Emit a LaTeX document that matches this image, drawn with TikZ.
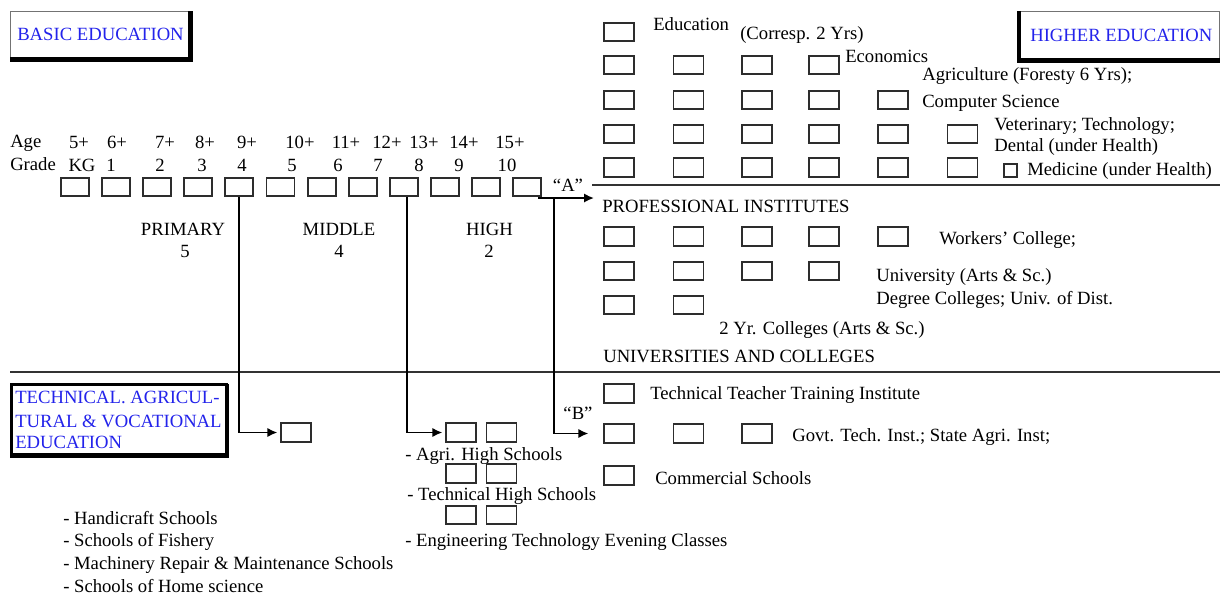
\documentclass[tikz,border=0pt]{standalone}
\usepackage{fontspec}
\setmainfont{Liberation Serif}
\usetikzlibrary{arrows.meta}
\definecolor{hblue}{RGB}{35,35,235}
\definecolor{boxc}{RGB}{45,45,45}
\begin{document}
\begin{tikzpicture}[x=0.75pt,y=-0.75pt,
  font=\fontsize{14}{16}\selectfont,
  sbox/.style={draw=boxc,line width=1.4pt,minimum width=21pt,minimum height=13.5pt,inner sep=0pt},
  wbox/.style={sbox,minimum width=22.5pt,minimum height=14pt},
  txt/.style={anchor=base west,inner sep=0pt},
  ctxt/.style={anchor=base,inner sep=0pt},
  head/.style={txt,text=hblue},
  conn/.style={line width=1.4pt,black},
  tip/.style={-{Latex[length=7.5pt,width=7pt]}},
  rulel/.style={line width=1.8pt,black!80}]
\useasboundingbox (0,0) rectangle (1220,608);
\fill[white] (0,0) rectangle (1220,608);

% ---------- header frames ----------
\draw[line width=0.75pt,black!55] (10,11) rectangle (190,59);
\draw[line width=3.75pt] (190.5,11) -- (190.5,62);
\draw[line width=3.75pt] (10,59.5) -- (193,59.5);
\node[head] (basic) at (17,40) {BASIC EDUCATION};

\draw[line width=0.75pt,black!55] (1019,11) rectangle (1219.5,59);
\draw[line width=3pt] (1019,11) -- (1019,62);
\draw[line width=3.75pt] (1017,60) -- (1220,60);
\node[head] (higher) at (1030,41) {HIGHER EDUCATION};

\draw[line width=2.25pt] (11.5,384.5) rectangle (226.5,454.5);
\draw[line width=3pt] (227,384) -- (227,456) -- (10,456);
\node[head] (tech1) at (15,403) {TECHNICAL. AGRICUL-};
\node[head] (tech2) at (15,427) {TURAL \& VOCATIONAL};
\node[head] (tech3) at (15,448) {EDUCATION};

% ---------- age / grade ----------
\node[txt] (agelbl) at (10,147) {Age};
\node[txt] (gradelbl) at (10,170) {Grade};
\foreach \x/\t [count=\k] in {79/5+,117/6+,165/7+,205/8+,247/9+,300/10+,346/11+,387/12+,424/13+,464/14+,510/15+}
  \node[ctxt] (age\k) at (\x,148) {\t};
\foreach \x/\t [count=\k] in {82/KG,111/1,160/2,202/3,242/4,292/5,338/6,378/7,419/8,459/9,507/10}
  \node[ctxt] (gr\k) at (\x,171) {\t};
\foreach \i in {0,...,11}
  \node[sbox] (g\i) at ({75+41.1*\i},187) {};

\node[ctxt] (prim) at (183,235) {PRIMARY};
\node[ctxt] (prim5) at (185,257) {5};
\node[ctxt] (mid) at (339,235) {MIDDLE};
\node[ctxt] (mid4) at (339,257) {4};
\node[ctxt] (high) at (489.5,235) {HIGH};
\node[ctxt] (high2) at (489,257) {2};

\node[ctxt] (qa) at (568,191) {“A”};
\node[ctxt] (qb) at (578,419) {“B”};

% ---------- rules ----------
\draw[rulel] (592,185) -- (1220,185);
\draw[rulel] (10,372) -- (1220,372);

% ---------- higher education grid ----------
\node[wbox] (e11) at (619,32) {};
\foreach \c/\x in {1/619,2/688.5,3/757,4/824}
  \node[wbox] (e2\c) at (\x,65) {};
\foreach \c/\x in {1/619,2/688.5,3/757,4/824,5/893}
  \node[wbox] (e3\c) at (\x,100) {};
\foreach \c/\x in {1/619,2/688.5,3/757,4/824,5/893,6/962.5}
  \node[wbox] (e4\c) at (\x,134) {};
\foreach \c/\x in {1/619,2/688.5,3/757,4/824,5/893,6/962.5}
  \node[wbox] (e5\c) at (\x,167.5) {};
\node[draw=boxc,line width=1.4pt,minimum size=10pt,inner sep=0pt] (e57) at (1010.5,170.5) {};

\node[txt] (tedu) at (653,30) {Education};
\node[txt] (tcorr) at (740,39) {(Corresp. 2 Yrs)};
\node[txt] (tecon) at (845,62) {Economics};
\node[txt] (tagri) at (922,80) {Agriculture (Foresty 6 Yrs);};
\node[txt] (tcomp) at (922,107) {Computer Science};
\node[txt] (tvet) at (994,130) {Veterinary; Technology;};
\node[txt] (tdent) at (994,151) {Dental (under Health)};
\node[txt] (tmed) at (1027,175) {Medicine (under Health)};

% ---------- professional institutes ----------
\node[txt] (tprof) at (602,212) {PROFESSIONAL INSTITUTES};
\foreach \c/\x in {1/619,2/688.5,3/757,4/824,5/893}
  \node[wbox] (p1\c) at (\x,236.5) {};
\foreach \c/\x in {1/619,2/688.5,3/757,4/824}
  \node[wbox] (p2\c) at (\x,271) {};
\foreach \c/\x in {1/619,2/688.5}
  \node[wbox] (p3\c) at (\x,305) {};
\node[txt] (twork) at (939,244) {Workers’ College;};
\node[txt] (tuniv) at (876,281) {University (Arts \& Sc.)};
\node[txt] (tdeg) at (876,304) {Degree Colleges; Univ. of Dist.};
\node[txt] (t2yr) at (719,334) {2 Yr. Colleges (Arts \& Sc.)};
\node[txt] (tunis) at (603,362) {UNIVERSITIES AND COLLEGES};

% ---------- technical / vocational ----------
\node[wbox] (t1) at (619,393.5) {};
\node[txt] (tttt) at (650,399) {Technical Teacher Training Institute};
\foreach \c/\x in {1/619,2/688.5,3/757}
  \node[wbox] (b\c) at (\x,433.5) {};
\node[txt] (tgovt) at (792,441) {Govt. Tech. Inst.; State Agri. Inst;};
\node[wbox] (cm) at (619,475.5) {};
\node[txt] (tcomm) at (655,484) {Commercial Schools};

\node[wbox] (ah1) at (461,432.5) {};
\node[wbox] (ah2) at (501.5,432.5) {};
\node[txt] (tagh) at (405,460) {- Agri. High Schools};
\node[wbox] (th1) at (461,473.5) {};
\node[wbox] (th2) at (501.5,473.5) {};
\node[txt] (tths) at (407,500) {- Technical High Schools};
\node[wbox] (et1) at (461,515) {};
\node[wbox] (et2) at (501.5,515) {};
\node[txt] (teng) at (405,546) {- Engineering Technology Evening Classes};

\node[wbox] (tv) at (296,432.5) {};
\node[txt] (l1) at (63,524) {- Handicraft Schools};
\node[txt] (l2) at (63,546) {- Schools of Fishery};
\node[txt] (l3) at (63,569) {- Machinery Repair \& Maintenance Schools};
\node[txt] (l4) at (63,592) {- Schools of Home science};

% ---------- connectors ----------
\coordinate (a0) at (538,198);
\coordinate (aend) at (594,198);
\coordinate (bstart) at (554,198);
\draw[conn,tip] (a0) -- (aend);
\draw[conn,tip,shorten >=11pt] (bstart) |- (b1.west);
\draw[conn,tip,shorten >=2pt] (g4.south) |- (tv.west);
\draw[conn,tip,shorten >=2pt] ([xshift=2.5pt]g8.south) |- (ah1.west);
\end{tikzpicture}
\end{document}
